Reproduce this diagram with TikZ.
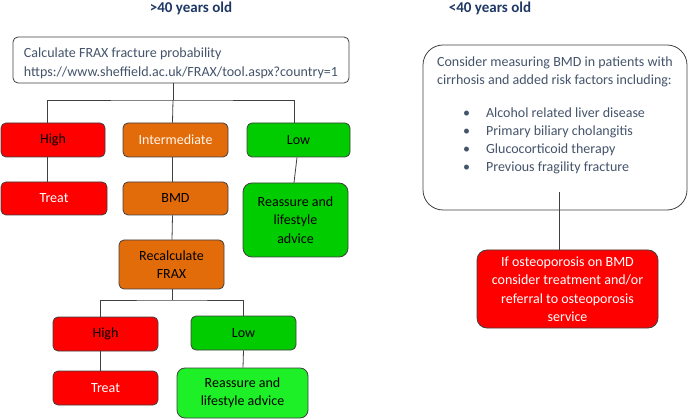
\documentclass[tikz,border=0pt]{standalone}
\usepackage{fontspec}
\setmainfont{Carlito}
\definecolor{cred}{RGB}{255,0,0}
\definecolor{corange}{RGB}{227,108,10}
\definecolor{cgreen}{RGB}{0,204,0}
\definecolor{clgreen}{RGB}{30,240,40}
\definecolor{navy}{RGB}{31,56,100}
\definecolor{slate}{RGB}{68,84,106}
\definecolor{edge}{RGB}{64,64,64}
\tikzset{
  x=1pt,y=-1pt,
  box/.style={draw=edge,line width=0.8pt,rounded corners=5pt,align=center,
    font=\fontsize{14}{18.5}\selectfont,inner sep=2pt},
  redbox/.style={box,fill=cred},
  orbox/.style={box,fill=corange},
  grbox/.style={box,fill=cgreen},
  conn/.style={draw=edge,line width=0.8pt},
  title/.style={font=\fontsize{15}{18}\selectfont\bfseries,text=navy}
}
\begin{document}
\begin{tikzpicture}
\useasboundingbox (0,0) rectangle (690,419);
\node[title] (t1) at (191,8) {>40 years old};
\node[title] (t2) at (490,8) {<40 years old};

\node[box,fill=white,align=left,text=slate,minimum width=336pt,minimum height=46pt] (frax) at (181,60)
  {\rule{0pt}{16pt}Calculate FRAX fracture probability\\https://www.sheffield.ac.uk/FRAX/tool.aspx?country=1};

\node[redbox,minimum width=104pt,minimum height=34pt] (high) at (53,140) {High};
\node[orbox,text=white!92!orange,minimum width=105pt,minimum height=34pt] (inter) at (175.5,140) {Intermediate};
\node[grbox,minimum width=103pt,minimum height=34pt] (low) at (298.5,140) {Low};

\node[redbox,text=white,minimum width=106pt,minimum height=33pt] (treat) at (54,198.5) {Treat};
\node[orbox,minimum width=105pt,minimum height=33pt] (bmd) at (175.5,198.5) {BMD};
\node[grbox,rounded corners=9pt,minimum width=105pt,minimum height=74pt] (reass) at (295.5,220) {Reassure and\\lifestyle\\advice};

\node[orbox,minimum width=105pt,minimum height=49pt] (recalc) at (171.5,264.5) {Recalculate\\FRAX};

\node[redbox,minimum width=105pt,minimum height=34pt] (high2) at (105.5,334) {High};
\node[grbox,minimum width=105pt,minimum height=34pt] (low2) at (243.5,333) {Low};
\node[redbox,text=white,minimum width=105pt,minimum height=34pt] (treat2) at (105.5,388) {Treat};
\node[box,fill=clgreen,rounded corners=8pt,minimum width=131pt,minimum height=50pt] (reass2) at (242.5,393) {Reassure and\\lifestyle advice};

\node[box,fill=white,rounded corners=20pt,align=left,text=slate,minimum width=264pt,minimum height=165pt,font=\fontsize{14}{18}\selectfont] (cons) at (555,127.5)
  {Consider measuring BMD in patients with\\
   cirrhosis and added risk factors including:\\[15pt]
   \hspace*{26pt}\makebox[23pt][l]{\textbullet}Alcohol related liver disease\\
   \hspace*{26pt}\makebox[23pt][l]{\textbullet}Primary biliary cholangitis\\
   \hspace*{26pt}\makebox[23pt][l]{\textbullet}Glucocorticoid therapy\\
   \hspace*{26pt}\makebox[23pt][l]{\textbullet}Previous fragility fracture\\[8pt]\mbox{}};
\node[redbox,text=white,rounded corners=10pt,minimum width=181pt,minimum height=78pt] (osteo) at (567.5,289)
  {If osteoporosis on BMD\\consider treatment and/or\\referral to osteoporosis\\service};

\coordinate (j1) at (173,100);
\coordinate (j2) at (172,300);
\coordinate (cin) at (559,192);

\draw[conn] ([xshift=-8pt]frax.south) -- (j1);
\draw[conn] ([xshift=-6pt]high.north) |- (j1) -| ([xshift=-4.5pt]low.north);
\draw[conn] (j1) -- ([xshift=-3pt]inter.north);
\draw[conn] ([xshift=-6pt]high.south) -- ([xshift=-7pt]treat.north);
\draw[conn] ([xshift=-3pt]inter.south) -- ([xshift=-3pt]bmd.north);
\draw[conn] ([xshift=-1.5pt]low.south) -- ([xshift=-1.5pt]reass.north);
\draw[conn] ([xshift=-3pt]bmd.south) -- ([xshift=0.5pt]recalc.north);
\draw[conn] ([xshift=0.5pt]recalc.south) -- (j2);
\draw[conn] ([xshift=-5.5pt]high2.north) |- (j2) -| (low2.north);
\draw[conn] ([xshift=-5.5pt]high2.south) -- ([xshift=-5.5pt]treat2.north);
\draw[conn] (low2.south) -- ([xshift=0.5pt]reass2.north);
\draw[conn] (cin) -- (cin |- osteo.north);
\end{tikzpicture}
\end{document}
